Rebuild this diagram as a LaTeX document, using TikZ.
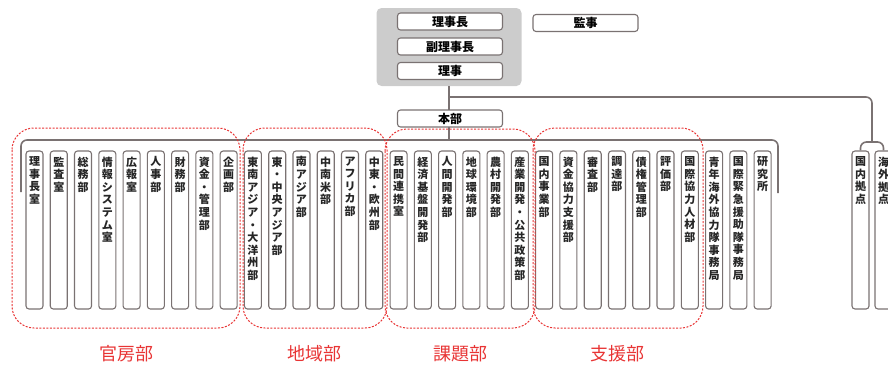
\documentclass[tikz,border=0pt]{standalone}
\usepackage{fontspec}
\usepackage{xcolor}
\usepackage{tikz}
\newfontfamily\jp{Noto Sans CJK JP}

\definecolor{linegray}{RGB}{122,114,114}
\definecolor{boxgray}{RGB}{204,204,204}
\definecolor{groupred}{RGB}{232,52,52}

% stack the characters of a word one under the other
\newcommand\vt[1]{\vtfirst#1\relax}
\def\vtfirst#1{#1\vtrest}
\def\vtrest#1{\ifx#1\relax\else\\#1\expandafter\vtrest\fi}

\begin{document}
\begin{tikzpicture}[x=1pt,y=-1pt,
  topbox/.style={draw=linegray,fill=white,line width=1.1pt,rounded corners=3pt,
    minimum width=105pt,minimum height=17pt,inner sep=0pt,
    font=\jp\bfseries\fontsize{12}{13}\selectfont},
  colbox/.style={draw=linegray,fill=white,line width=1.1pt,rounded corners=3pt,
    minimum width=17pt,minimum height=158pt,inner sep=0pt},
  coltext/.style={anchor=north,align=center,inner sep=0pt,text=black!85,
    font=\jp\bfseries\fontsize{11}{12.6}\selectfont},
  group/.style={draw=groupred,dash pattern=on 2pt off 1.5pt,line width=1pt,
    rounded corners=22pt},
  grouplabel/.style={text=groupred,font=\jp\fontsize{18}{20}\selectfont},
  conn/.style={draw=linegray,line width=1.6pt,rounded corners=6pt}]
\clip (0,0) rectangle (888,367);

% board
\node[fill=boxgray,rounded corners=5pt,minimum width=145pt,minimum height=78pt] (board) at (449,47) {};
\draw[conn] (board.south) -- (board.south |- 0,140);
\draw[conn] (board.south |- 0,97) -- (872,97) -- (872,142);
\node[topbox] (chair) at (450,21.5) {理事長};
\node[topbox] (vice) at (450,46.5) {副理事長};
\node[topbox] (dir) at (450,71) {理事};
\node[topbox] (audit) at (585.5,23) {監事};
\node[topbox] (hq) at (450,118.5) {本部};

% headquarters bar
\coordinate (barw) at (21,192);
\coordinate (bare) at (778,193);
\draw[conn] (barw) -- (21,140) -- (778,140) -- (bare);

\foreach \dept [count=\i from 0] in {理事長室,監査室,総務部,情報システム室,広報室,人事部,財務部,資金・管理部,企画部,
  東南アジア・大洋州部,東・中央アジア部,南アジア部,中南米部,アフリカ部,中東・欧州部,
  民間連携室,経済基盤開発部,人間開発部,地球環境部,農村開発部,産業開発・公共政策部,
  国内事業部,資金協力支援部,審査部,調達部,債権管理部,評価部,国際協力人材部,
  青年海外協力隊事務局,国際緊急援助隊事務局,研究所}
{
  \node[colbox] (c\i) at (34.5+24.27*\i,230) {};
  \node[coltext] (t\i) at ([yshift=-6pt]c\i.north) {\expandafter\vt\expandafter{\dept}};
}

% offices
\node[colbox] (r0) at (860.5,230) {};
\node[colbox] (r1) at (883.5,230) {};
\node[coltext] (s0) at ([yshift=-6pt]r0.north) {\vt{国内拠点}};
\node[coltext] (s1) at ([yshift=-6pt]r1.north) {\vt{海外拠点}};
\draw[conn] (r0.north) -- (860.5,142) -- (883.5,142) -- (r1.north);

% groups
\draw[group] (12,128) rectangle (240,328);
\draw[group] (243,128) rectangle (387,328);
\draw[group] (385,129) rectangle (535,328);
\draw[group] (533,128) rectangle (703,328);

\node[grouplabel] (kanbo) at (126,354) {官房部};
\node[grouplabel] (chiiki) at (314,354) {地域部};
\node[grouplabel] (kadai) at (460,354) {課題部};
\node[grouplabel] (shien) at (617,354) {支援部};
\end{tikzpicture}
\end{document}
